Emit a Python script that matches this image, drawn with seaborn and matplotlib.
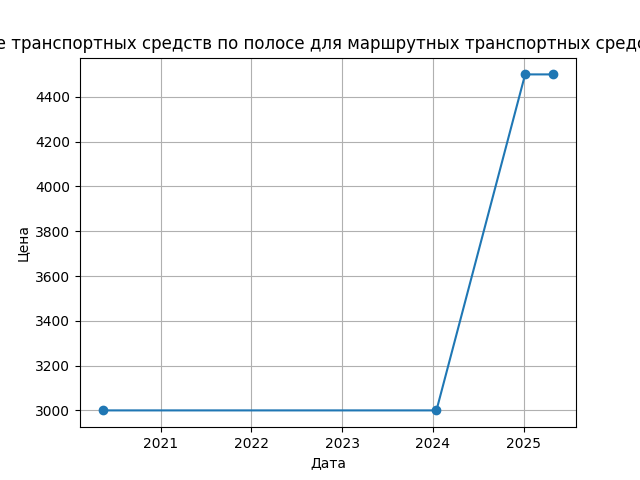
import matplotlib
matplotlib.use("Agg")
import matplotlib.pyplot as plt
import seaborn as sns
import pandas as pd

dates = ["2020-05-12", "2024-01-16", "2025-01-07", "2025-05-01"]
prices = [3000, 3000, 4500, 4500]
title = "Штраф за движение транспортных средств по полосе для маршрутных транспортных средств в г. Москве, в руб."

df = pd.DataFrame({"Дата": pd.to_datetime(dates), "Цена": prices})

fig, ax = plt.subplots(figsize=(6.4, 4.8), dpi=100)
sns.lineplot(data=df, x="Дата", y="Цена", marker="o", color="#1f77b4",
             markeredgecolor="#1f77b4", markeredgewidth=1, markersize=6, ax=ax)
ax.set_title(title)
ax.grid(True)
fig.savefig("out.png", dpi=100)
